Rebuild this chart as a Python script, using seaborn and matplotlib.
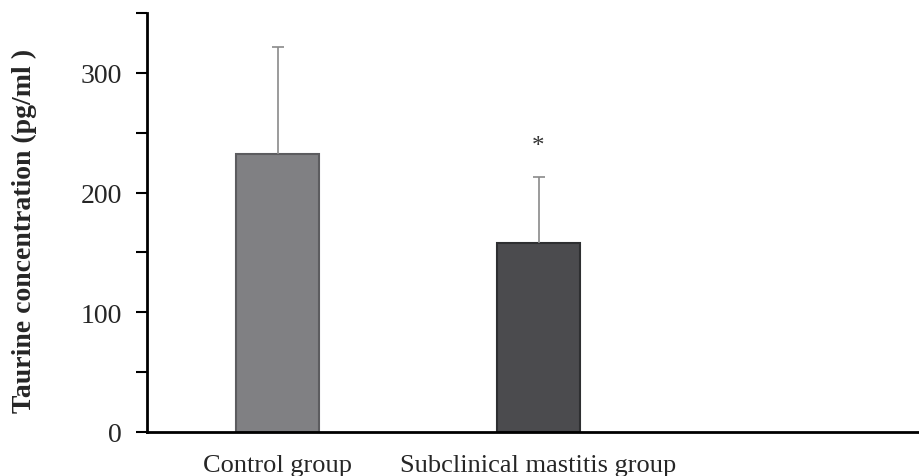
import seaborn as sns
import matplotlib.pyplot as plt
import pandas as pd

# values
groups = ["Control group", "Subclinical mastitis group"]
means = [232, 158]
sds = [90, 55]
bar_colors = ["#808083", "#4a4b4e"]
edge_colors = ["#5c5c5f", "#2e2f31"]

df = pd.DataFrame({"group": groups, "taurine": means})

sns.set_style("white")
plt.rcParams["font.family"] = ["Liberation Serif", "DejaVu Serif"]

fig = plt.figure(figsize=(9.19, 4.77), dpi=100)
ax = fig.add_axes([147 / 919, 1 - 433 / 477, 771 / 919, 419 / 477])

sns.barplot(data=df, x="group", y="taurine", hue="group", palette=bar_colors,
            width=0.32, errorbar=None, legend=False, ax=ax)
for patch, ec in zip(ax.patches, edge_colors):
    patch.set_edgecolor(ec)
    patch.set_linewidth(1.5)

# upper error bars only (hide the cap sitting on the bar top)
_, caps, _ = ax.errorbar(range(len(groups)), means, yerr=[[0] * len(sds), sds],
                         fmt="none", ecolor="#8a8a8a", elinewidth=1.2,
                         capsize=4, capthick=1.2, zorder=1)
caps[0].set_visible(False)

# significance mark
ax.text(1, means[1] + sds[1] + 26, "*", ha="center", va="center",
        fontsize=18, color="#333333")

ax.set_ylim(0, 350)
ax.set_xlim(-0.5, -0.5 + 771 / 261)
ax.set_yticks([0, 100, 200, 300])
ax.set_yticks([50, 150, 250, 350], minor=True)
ax.tick_params(axis="y", which="both", direction="out", length=8, width=1.5,
               left=True, labelsize=20, pad=10, color="black")
ax.tick_params(axis="x", length=0, labelsize=19, pad=16)

ax.set_xlabel("")
ax.set_ylabel("Taurine concentration (pg/ml )", fontsize=20, fontweight="bold")
ax.yaxis.set_label_coords(-0.143, 0.482)

for side in ["top", "right"]:
    ax.spines[side].set_visible(False)
for side in ["left", "bottom"]:
    ax.spines[side].set_color("black")
    ax.spines[side].set_linewidth(2)

plt.savefig("out.png", dpi=100)
